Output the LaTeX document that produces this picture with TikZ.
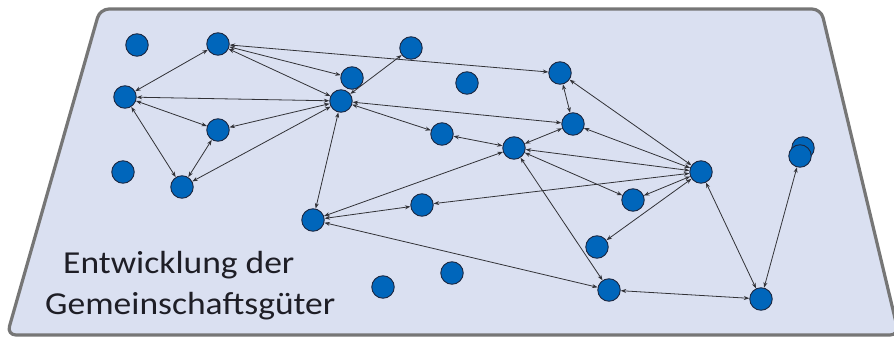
\documentclass[tikz,border=0pt]{standalone}
\usepackage{fontspec}
\setmainfont{Carlito}
\usetikzlibrary{arrows.meta}
\definecolor{panelfill}{RGB}{218,224,241}
\definecolor{panelborder}{RGB}{118,118,118}
\definecolor{nodefill}{RGB}{0,102,187}
\definecolor{nodeline}{RGB}{28,40,66}
\definecolor{edgecol}{RGB}{50,50,55}
\definecolor{textcol}{RGB}{30,30,38}
\tikzset{
  agent/.style={circle, fill=nodefill, draw=nodeline, line width=0.9pt, minimum size=22.5pt, inner sep=0pt},
  link/.style={draw=edgecol, line width=0.8pt, {Stealth[length=5.5pt,width=4pt]}-{Stealth[length=5.5pt,width=4pt]}},
  label/.style={font=\fontsize{32}{38}\selectfont, text=textcol, anchor=base west, inner sep=0pt, xscale=1.11}
}
\begin{document}
\begin{tikzpicture}[x=1pt,y=-1pt]
\useasboundingbox (0,0) rectangle (894,339);
\clip (0,0) rectangle (894,339);
\draw[panelborder, fill=panelfill, line width=3.2pt, rounded corners=9pt]
  (100,9) -- (821,9) -- (899,335) -- (7,335) -- cycle;
% nodes
\node[agent] (A) at (137,45) {};
\node[agent] (B) at (218,44) {};
\node[agent] (C) at (125,97) {};
\node[agent] (D) at (218,130) {};
\node[agent] (E) at (123,172) {};
\node[agent] (F) at (182,187) {};
\node[agent] (G) at (352,78) {};
\node[agent] (P) at (341,101) {};
\node[agent] (H) at (411,48) {};
\node[agent] (I) at (467,83) {};
\node[agent] (J) at (560,73) {};
\node[agent] (K) at (573,124) {};
\node[agent] (L) at (442,134) {};
\node[agent] (M) at (514,148) {};
\node[agent] (N) at (701,172) {};
\node[agent] (Q) at (313,220) {};
\node[agent] (R) at (422,205) {};
\node[agent] (U) at (452,273) {};
\node[agent] (V) at (383,287) {};
\node[agent] (S) at (633,200) {};
\node[agent] (T) at (597,247) {};
\node[agent] (W) at (609,290) {};
\node[agent] (X) at (761,299) {};
\node[agent] (O1) at (803,148) {};
\node[agent] (O2) at (800,156) {};
% edges
\foreach \a/\b in {B/C, C/D, C/F, D/F, P/C, P/D, P/F, P/B, B/G, B/J, P/H, P/Q, P/L, L/M, P/K,
  J/K, J/N, K/M, K/N, M/N, M/S, M/Q, M/W, Q/R, R/N, Q/W, N/S, N/T, N/X, O2/X, W/X}
  \path[link] (\a) -- (\b);
% text
\node[label] (t1) at (63,273) {Entwicklung der};
\node[label] (t2) at (45,314) {Gemeinschaftsgüter};
\end{tikzpicture}
\end{document}
